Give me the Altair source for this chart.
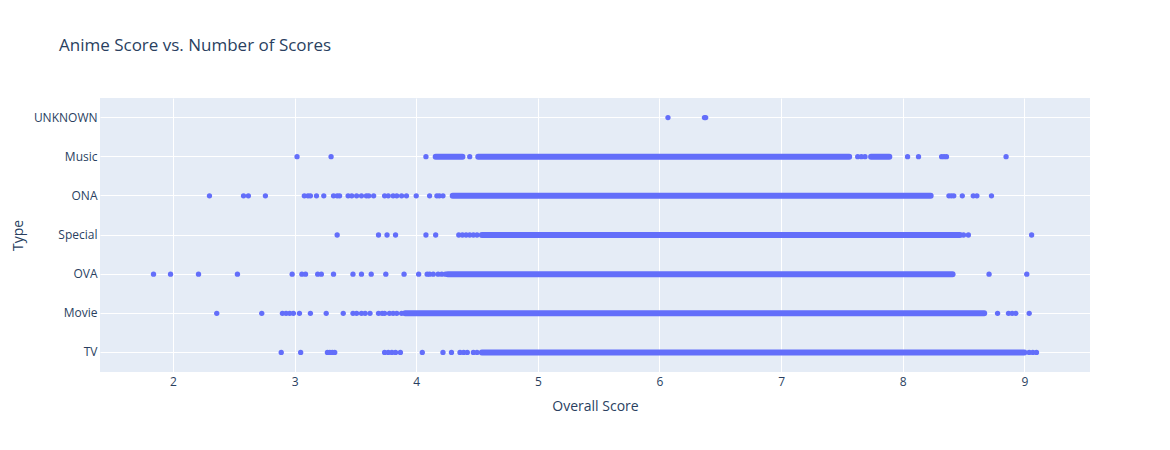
import altair as alt
import pandas as pd

# Category order (top to bottom)
types = ["UNKNOWN", "Music", "ONA", "Special", "OVA", "Movie", "TV"]

# Isolated, individually visible scores per type
unknown_scores = [6.07, 6.37, 6.38]
music_scores = [3.02, 3.30, 4.08, 4.44, 7.63, 7.66, 7.69, 8.04, 8.13, 8.32, 8.34, 8.36, 8.85]
ona_scores = [2.30, 2.58, 2.62, 2.76, 3.08, 3.11, 3.13, 3.18, 3.24, 3.32, 3.35, 3.37,
              3.44, 3.47, 3.51, 3.55, 3.59, 3.61, 3.65, 3.74, 3.77, 3.81, 3.84, 3.88,
              3.92, 4.00, 4.11, 4.17, 4.19, 4.22, 8.38, 8.40, 8.42, 8.49, 8.58, 8.61, 8.73]
special_scores = [3.35, 3.69, 3.76, 3.83, 4.08, 4.16, 4.35, 4.38, 4.41, 4.44, 4.47,
                  4.50, 8.50, 8.54, 9.06]
ova_scores = [1.84, 1.98, 2.21, 2.53, 2.98, 3.06, 3.09, 3.19, 3.22, 3.32, 3.48, 3.55,
              3.63, 3.75, 3.90, 4.02, 4.09, 4.11, 4.14, 4.18, 4.21, 4.24, 8.71, 9.02]
movie_scores = [2.36, 2.73, 2.90, 2.93, 2.96, 2.99, 3.04, 3.13, 3.26, 3.40, 3.48, 3.51,
                3.55, 3.58, 3.62, 3.69, 3.72, 3.74, 3.78, 3.81, 3.84, 3.88,
                8.78, 8.87, 8.90, 8.93, 9.04]
tv_scores = [2.89, 3.05, 3.27, 3.29, 3.31, 3.33, 3.74, 3.77, 3.80, 3.83, 3.87, 4.05,
             4.22, 4.29, 4.36, 4.39, 4.42, 4.47, 4.50, 9.04, 9.07, 9.10]

# Continuous runs of overlapping markers (first and last marker centres)
run_type = ["Music", "Music", "Music", "ONA", "Special", "OVA", "Movie", "TV"]
run_start = [4.16, 4.51, 7.74, 4.30, 4.54, 4.26, 3.91, 4.54]
run_end = [4.38, 7.56, 7.89, 8.23, 8.47, 8.41, 8.67, 9.00]

x_ticks = [2, 3, 4, 5, 6, 7, 8, 9]

rows = []
for t, vals in zip(types, [unknown_scores, music_scores, ona_scores, special_scores,
                           ova_scores, movie_scores, tv_scores]):
    for v in vals:
        rows.append({"Type": t, "Overall Score": v})
pts = pd.DataFrame(rows)
runs = pd.DataFrame({"Type": run_type, "start": run_start, "end": run_end})

COLOR = "#636efa"
FONT = "Open Sans"
TXT = "#2a3f5f"

xscale = alt.Scale(domain=[1.4, 9.54], nice=False, zero=False)
yscale = alt.Scale(domain=types)

xaxis = alt.Axis(values=x_ticks, title="Overall Score", grid=True, gridColor="white",
                 gridWidth=1, domain=False, ticks=False, labelFont=FONT, labelFontSize=12,
                 labelColor=TXT, titleFont=FONT, titleFontSize=14, titleColor=TXT,
                 titleFontWeight="normal", labelPadding=4, titlePadding=12)
yaxis = alt.Axis(title="Type", grid=True, gridColor="white", gridWidth=1, domain=False,
                 ticks=False, labelFont=FONT, labelFontSize=12, labelColor=TXT,
                 titleFont=FONT, titleFontSize=14, titleColor=TXT,
                 titleFontWeight="normal", labelPadding=3, titlePadding=8)

points = alt.Chart(pts).mark_circle(size=28, opacity=1, color=COLOR).encode(
    x=alt.X("Overall Score:Q", scale=xscale, axis=xaxis),
    y=alt.Y("Type:N", scale=yscale, sort=types, axis=yaxis),
)

bands = alt.Chart(runs).mark_rule(color=COLOR, strokeWidth=6, strokeCap="round").encode(
    x=alt.X("start:Q", scale=xscale, axis=xaxis),
    x2="end:Q",
    y=alt.Y("Type:N", scale=yscale, sort=types, axis=yaxis),
)

chart = alt.layer(bands, points).properties(
    width=990,
    height=274,
    padding={"left": 92, "top": 90, "right": 60, "bottom": 60},
    autosize=alt.AutoSizeParams(type="none"),
    background="white",
    title=alt.TitleParams(
        text="Anime Score vs. Number of Scores",
        anchor="start", frame="group", dx=-41, offset=30, baseline="alphabetic",
        font=FONT, fontSize=17, fontWeight="normal", color=TXT,
    ),
).configure_view(fill="#E5ECF6", strokeWidth=0)

chart.save("out.html", embed_options={"renderer": "svg", "actions": False})
